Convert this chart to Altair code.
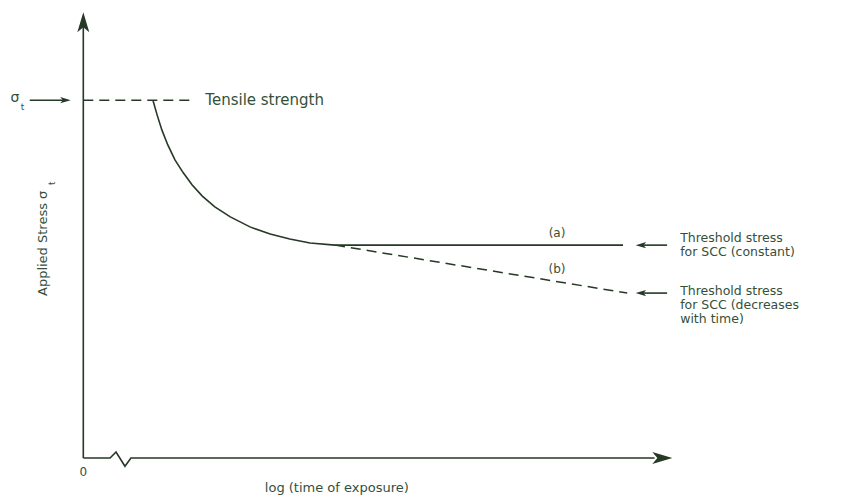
import altair as alt
import pandas as pd

# ---- data (x: log time units, y: stress as fraction of tensile strength) ----
curve_x = [1.17, 1.24, 1.32, 1.42, 1.54, 1.68, 1.83, 2.00, 2.21, 2.47, 2.80, 3.14, 3.47, 3.81, 4.23]
curve_y = [1.00, 0.959, 0.917, 0.875, 0.833, 0.797, 0.763, 0.732, 0.702, 0.674, 0.646, 0.626, 0.612, 0.601, 0.595]
thr_a_x = [4.23, 9.07]
thr_a_y = [0.595, 0.595]
thr_b_x = [4.23, 9.14]
thr_b_y = [0.595, 0.461]
tensile_x = [0.0, 1.83]
tensile_y = [1.0, 1.0]
yaxis_x = [0.0, 0.0]
yaxis_y = [0.0, 1.21]
xaxis_x = [0.0, 0.45, 0.55, 0.70, 0.80, 9.60]
xaxis_y = [0.0, 0.0, 0.017, -0.023, 0.0, 0.0]

INK = "#263826"
TXT = "#34503a"
FONT = "DejaVu Sans"

def seg(name, xs, ys):
    return pd.DataFrame({"seg": name, "x": xs, "y": ys, "o": range(len(xs))})

solid = pd.concat([
    seg("yaxis", yaxis_x, yaxis_y),
    seg("xaxis", xaxis_x, xaxis_y),
    seg("curve", curve_x + thr_a_x[1:], curve_y + thr_a_y[1:]),
    seg("sig_arrow", [-0.90, -0.31], [1.0, 1.0]),
    seg("a_arrow", [9.81, 9.40], [0.595, 0.595]),
    seg("b_arrow", [9.81, 9.40], [0.461, 0.461]),
])
dashed = pd.concat([
    seg("tensile", tensile_x, tensile_y),
    seg("b", thr_b_x, thr_b_y),
])
heads = pd.DataFrame({
    "x": [0.0, 9.73, -0.30, 9.37, 9.37],
    "y": [1.218, 0.0, 1.0, 0.595, 0.461],
    "ang": [0, 90, 90, 270, 270],
    "sz": [400, 400, 110, 110, 110],
})

left_texts = pd.DataFrame({
    "x": [2.05, 10.03, 10.03, 10.03, 10.03, 10.03],
    "y": [1.0, 0.615, 0.576, 0.467, 0.428, 0.389],
    "t": ["Tensile strength", "Threshold stress", "for SCC (constant)",
          "Threshold stress", "for SCC (decreases", "with time)"],
    "fs": [15, 12.5, 12.5, 12.5, 12.5, 12.5],
})
center_texts = pd.DataFrame({
    "x": [7.96, 7.96, 0.0, 4.26, -1.15, -1.02],
    "y": [0.629, 0.528, -0.039, -0.084, 1.006, 0.981],
    "t": ["(a)", "(b)", "0", "log (time of exposure)", "σ", "t"],
    "fs": [12, 12, 12, 13, 14, 9],
})
rot_texts = pd.DataFrame({
    "x": [-0.68, -0.53],
    "y": [0.60, 0.768],
    "t": ["Applied Stress σ", "t"],
    "fs": [13, 9],
})

X = alt.X("x:Q", scale=alt.Scale(domain=[-1.4, 12.8], nice=False, zero=False), axis=None)
Y = alt.Y("y:Q", scale=alt.Scale(domain=[-0.12, 1.28], nice=False, zero=False), axis=None)

solid_l = alt.Chart(solid).mark_line(color=INK, strokeWidth=1.6).encode(
    x=X, y=Y, detail="seg:N", order="o:Q")
dashed_l = alt.Chart(dashed).mark_line(color=INK, strokeWidth=1.5, strokeDash=[10, 6]).encode(
    x=X, y=Y, detail="seg:N", order="o:Q")
head_l = alt.Chart(heads).mark_point(
    shape="M0,-1L0.6,1L0,0.5L-0.6,1Z", filled=True, color=INK, opacity=1
).encode(x=X, y=Y, angle=alt.Angle("ang:Q", scale=None), size=alt.Size("sz:Q", scale=None))
ltext = alt.Chart(left_texts).mark_text(align="left", baseline="middle", font=FONT, color=TXT).encode(
    x=X, y=Y, text="t:N", size=alt.Size("fs:Q", scale=None))
ctext = alt.Chart(center_texts).mark_text(align="center", baseline="middle", font=FONT, color=TXT).encode(
    x=X, y=Y, text="t:N", size=alt.Size("fs:Q", scale=None))
rtext = alt.Chart(rot_texts).mark_text(align="center", baseline="middle", angle=270, font=FONT, color=TXT).encode(
    x=X, y=Y, text="t:N", size=alt.Size("fs:Q", scale=None))

chart = alt.layer(solid_l, dashed_l, head_l, ltext, ctext, rtext).properties(
    width=845, height=501, padding=0, autosize=alt.AutoSizeParams(type="none"),
    background="white"
).configure_view(stroke=None)

chart.save("out.html", embed_options={"renderer": "svg", "actions": False})
